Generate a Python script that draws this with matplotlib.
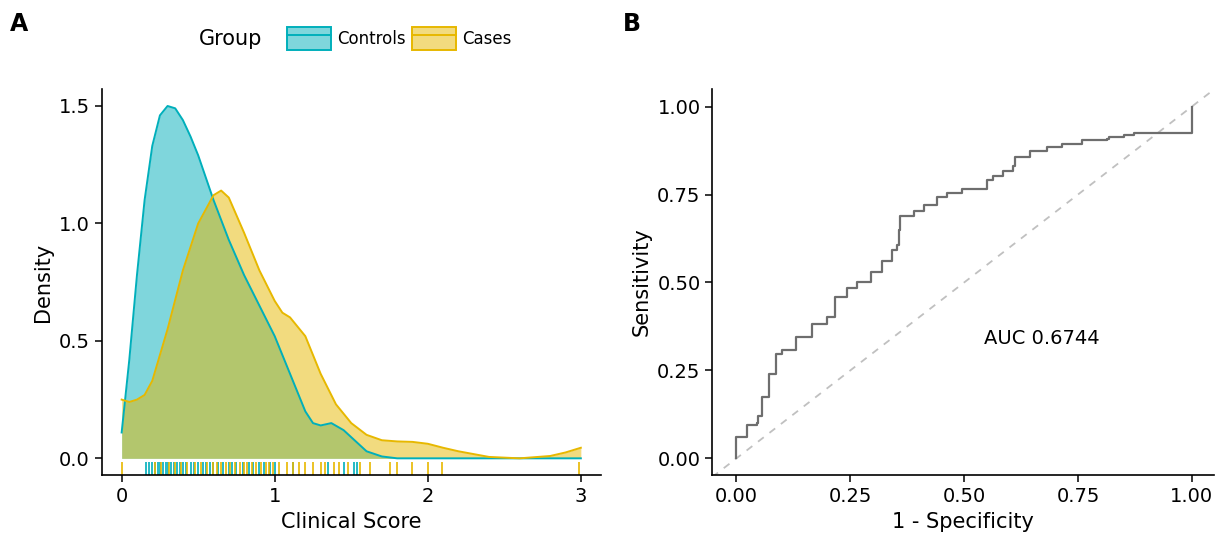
import numpy as np
import matplotlib.pyplot as plt
from matplotlib.patches import Patch
from matplotlib.lines import Line2D

# density curves
ctrl_x = [0, 0.05, 0.1, 0.15, 0.2, 0.25, 0.3, 0.35, 0.4, 0.45, 0.5, 0.6, 0.7, 0.8, 0.9, 1.0,
          1.1, 1.2, 1.25, 1.3, 1.37, 1.45, 1.5, 1.6, 1.7, 1.8, 2.0, 3.0]
ctrl_y = [0.11, 0.42, 0.78, 1.1, 1.33, 1.46, 1.5, 1.49, 1.44, 1.37, 1.29, 1.1, 0.93, 0.78, 0.65, 0.52,
          0.36, 0.2, 0.15, 0.14, 0.15, 0.12, 0.09, 0.03, 0.008, 0.0, 0.0, 0.0]
case_x = [0, 0.05, 0.1, 0.15, 0.2, 0.3, 0.4, 0.5, 0.6, 0.65, 0.7, 0.8, 0.9, 1.0, 1.05, 1.1, 1.2,
          1.3, 1.4, 1.5, 1.6, 1.7, 1.8, 1.9, 2.0, 2.1, 2.2, 2.4, 2.6, 2.8, 2.9, 3.0]
case_y = [0.25, 0.24, 0.25, 0.27, 0.33, 0.55, 0.8, 1.0, 1.12, 1.14, 1.11, 0.96, 0.8, 0.67, 0.62, 0.6, 0.52,
          0.36, 0.23, 0.15, 0.1, 0.077, 0.072, 0.07, 0.062, 0.045, 0.03, 0.006, 0.0, 0.01, 0.025, 0.045]

ctrl_rug = [0.16, 0.18, 0.2, 0.22, 0.24, 0.25, 0.27, 0.29, 0.3, 0.32, 0.34, 0.36, 0.38, 0.4, 0.42, 0.45,
            0.47, 0.5, 0.53, 0.55, 0.58, 0.6, 0.63, 0.66, 0.7, 0.72, 0.75, 0.79, 0.83, 0.86, 0.9, 0.93,
            0.97, 1.0, 1.12, 1.35, 1.45, 1.52, 1.54]
case_rug = [0.0, 0.22, 0.26, 0.31, 0.35, 0.39, 0.43, 0.48, 0.52, 0.56, 0.6, 0.62, 0.65, 0.68, 0.71,
            0.74, 0.77, 0.8, 0.82, 0.85, 0.88, 0.91, 0.94, 0.96, 0.99, 1.03, 1.08, 1.12, 1.16, 1.2,
            1.25, 1.3, 1.33, 1.39, 1.42, 1.48, 1.56, 1.62, 1.75, 1.8, 1.9, 2.0, 2.09, 2.99]

# ROC curve corners
fpr = [0, 0, 0.023, 0.045, 0.048, 0.056, 0.071, 0.086, 0.101, 0.13, 0.166, 0.199, 0.217, 0.243, 0.265,
       0.295, 0.32, 0.342, 0.353, 0.357, 0.36, 0.39, 0.411, 0.441, 0.463, 0.495, 0.532, 0.55, 0.564,
       0.586, 0.608, 0.612, 0.645, 0.681, 0.714, 0.758, 0.813, 0.817, 0.85, 0.872, 0.996, 1.0]
tpr = [0, 0.06, 0.094, 0.1, 0.12, 0.174, 0.24, 0.297, 0.307, 0.345, 0.383, 0.402, 0.459, 0.483, 0.5,
       0.531, 0.56, 0.593, 0.607, 0.65, 0.688, 0.702, 0.72, 0.744, 0.753, 0.767, 0.767, 0.79, 0.804,
       0.818, 0.832, 0.858, 0.873, 0.885, 0.894, 0.905, 0.908, 0.913, 0.92, 0.925, 0.925, 1.0]
auc_text = "AUC 0.6744"

CTRL = "#00AFBB"
CASE = "#E7B800"

plt.rcParams["font.family"] = "DejaVu Sans"
fig = plt.figure(figsize=(12.26, 5.37), dpi=100)
axA = fig.add_axes([0.083, 0.115, 0.407, 0.72])
axB = fig.add_axes([0.581, 0.115, 0.409, 0.72])

for ax in (axA, axB):
    for s in ("top", "right"):
        ax.spines[s].set_visible(False)
    for s in ("left", "bottom"):
        ax.spines[s].set_linewidth(1.2)
    ax.tick_params(labelsize=14, length=5, width=1.1, colors="black")

axA.fill_between(ctrl_x, ctrl_y, color=CTRL, alpha=0.5, lw=0)
axA.plot(ctrl_x, ctrl_y, color=CTRL, lw=1.4)
axA.fill_between(case_x, case_y, color=CASE, alpha=0.5, lw=0)
axA.plot(case_x, case_y, color=CASE, lw=1.4)
tr = axA.get_xaxis_transform()
axA.vlines(ctrl_rug, 0.0, 0.035, transform=tr, color=CTRL, lw=1.2)
axA.vlines(case_rug, 0.0, 0.035, transform=tr, color=CASE, lw=1.2)
axA.set_xlim(-0.13, 3.13)
axA.set_ylim(-0.072, 1.574)
axA.set_xticks([0, 1, 2, 3])
axA.set_yticks([0, 0.5, 1.0, 1.5])
axA.set_yticklabels(["0.0", "0.5", "1.0", "1.5"])
axA.set_xlabel("Clinical Score", fontsize=15)
axA.set_ylabel("Density", fontsize=15)

axB.plot([-0.053, 1.048], [-0.053, 1.048], ls=(0, (4, 4)), color="#c0c0c0", lw=1.3)
axB.step(fpr, tpr, where="post", color="#6e6e6e", lw=1.6)
axB.text(0.67, 0.34, auc_text, fontsize=14, ha="center", va="center")
axB.set_xlim(-0.053, 1.048)
axB.set_ylim(-0.048, 1.051)
ticks = [0, 0.25, 0.5, 0.75, 1.0]
axB.set_xticks(ticks)
axB.set_yticks(ticks)
axB.set_xticklabels(["0.00", "0.25", "0.50", "0.75", "1.00"])
axB.set_yticklabels(["0.00", "0.25", "0.50", "0.75", "1.00"])
axB.set_xlabel("1 - Specificity", fontsize=15)
axB.set_ylabel("Sensitivity", fontsize=15)

fig.text(0.008, 0.955, "A", fontsize=17, fontweight="bold", va="center")
fig.text(0.508, 0.955, "B", fontsize=17, fontweight="bold", va="center")

fig.text(0.162, 0.928, "Group", fontsize=15, va="center")
handles = [
    (Patch(facecolor=CTRL, alpha=0.5, edgecolor="none"), Patch(facecolor="none", edgecolor=CTRL, lw=1.4),
     Line2D([], [], color=CTRL, lw=1.4)),
    (Patch(facecolor=CASE, alpha=0.5, edgecolor="none"), Patch(facecolor="none", edgecolor=CASE, lw=1.4),
     Line2D([], [], color=CASE, lw=1.4)),
]
fig.legend(handles, ["Controls", "Cases"], loc="center left", bbox_to_anchor=(0.222, 0.928),
           ncol=2, frameon=False, fontsize=12, handlelength=2.6, handleheight=1.8,
           columnspacing=0.4, handletextpad=0.4)

fig.savefig("out.png", dpi=100)
